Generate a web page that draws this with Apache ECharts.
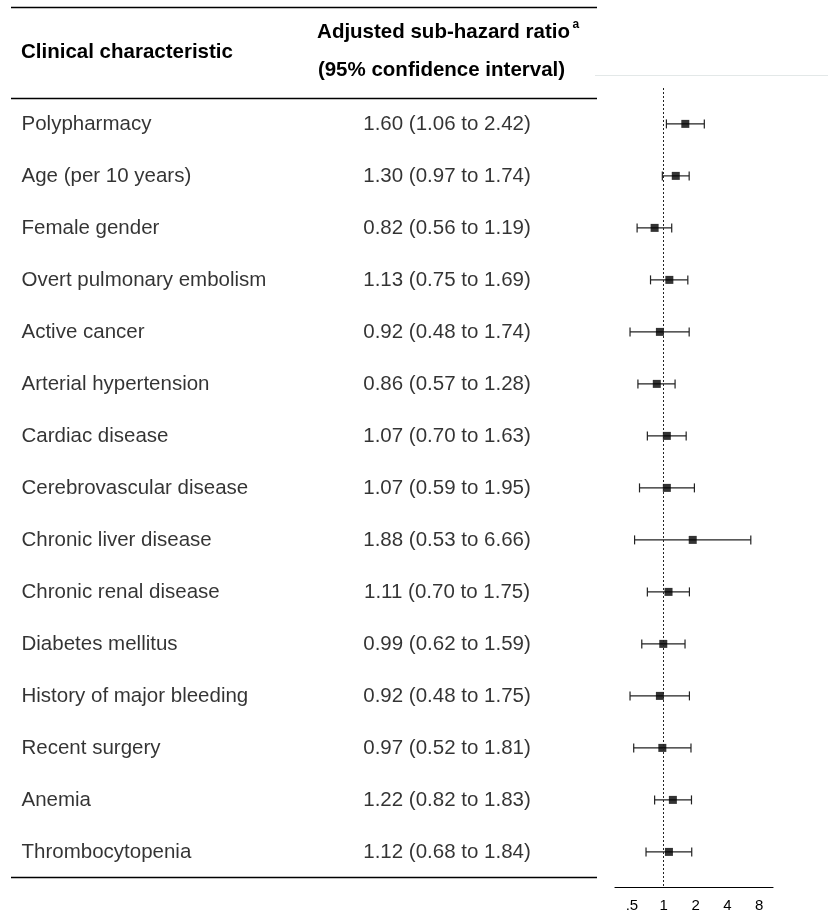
<!DOCTYPE html>
<html>
<head>
<meta charset="utf-8">
<script src="https://cdn.jsdelivr.net/npm/echarts@6/dist/echarts.min.js"></script>
<style>
  html, body { margin: 0; padding: 0; background: #fff; }
  #chart { width: 828px; height: 923px; }
</style>
</head>
<body>
<div id="chart"></div>
<script>
const labels = [
  'Polypharmacy', 'Age (per 10 years)', 'Female gender', 'Overt pulmonary embolism',
  'Active cancer', 'Arterial hypertension', 'Cardiac disease', 'Cerebrovascular disease',
  'Chronic liver disease', 'Chronic renal disease', 'Diabetes mellitus',
  'History of major bleeding', 'Recent surgery', 'Anemia', 'Thrombocytopenia'
];
const hr = [1.60, 1.30, 0.82, 1.13, 0.92, 0.86, 1.07, 1.07, 1.88, 1.11, 0.99, 0.92, 0.97, 1.22, 1.12];
const lo = [1.06, 0.97, 0.56, 0.75, 0.48, 0.57, 0.70, 0.59, 0.53, 0.70, 0.62, 0.48, 0.52, 0.82, 0.68];
const hi = [2.42, 1.74, 1.19, 1.69, 1.74, 1.28, 1.63, 1.95, 6.66, 1.75, 1.59, 1.75, 1.81, 1.83, 1.84];
const tickValues = [0.5, 1, 2, 4, 8];
const tickLabels = ['.5', '1', '2', '4', '8'];
const headerCol1 = 'Clinical characteristic';
const headerCol2a = 'Adjusted sub-hazard ratio';
const headerCol2b = '(95% confidence interval)';
const headerSup = 'a';

const FONT = '"Liberation Sans", Arial, Helvetica, sans-serif';
const TXT = '#000';
const log2 = v => Math.log(v) / Math.LN2;
const fmt = v => v.toFixed(2);

const chart = echarts.init(document.getElementById('chart'), null, { renderer: 'canvas' });

const rowIdx = labels.map((_, i) => i);
const yMin = -0.69, yMax = 14.675;

const option = {
  backgroundColor: '#fff',
  animation: false,
  textStyle: { fontFamily: FONT },
  grid: [
    { left: 615, width: 158, top: 88, height: 799, containLabel: false },
    { left: 0, width: 600, top: 88, height: 799, containLabel: false }
  ],
  xAxis: [
    {
      gridIndex: 0, type: 'value',
      min: log2(0.346), max: log2(10.8),
      splitLine: { show: false },
      axisLine: { show: true, onZero: false, lineStyle: { color: '#000', width: 1.2 } },
      axisTick: { show: false },
      axisLabel: {
        show: true, customValues: tickValues.map(log2),
        formatter: v => tickLabels[tickValues.findIndex(t => Math.abs(log2(t) - v) < 1e-6)] || '',
        color: TXT, fontSize: 15, fontFamily: FONT, margin: 11
      }
    },
    {
      gridIndex: 1, type: 'value', min: 0, max: 600, show: false
    }
  ],
  yAxis: [
    { gridIndex: 0, type: 'value', inverse: true, min: yMin, max: yMax, show: false },
    { gridIndex: 1, type: 'value', inverse: true, min: yMin, max: yMax, show: false }
  ],
  series: [
    {
      type: 'custom',
      xAxisIndex: 0, yAxisIndex: 0,
      data: rowIdx.map(i => [log2(lo[i]), log2(hi[i]), i]),
      renderItem: (params, api) => {
        const a = api.coord([api.value(0), api.value(2)]);
        const b = api.coord([api.value(1), api.value(2)]);
        const h = 4.5;
        const st = { stroke: '#222', lineWidth: 1.2 };
        return {
          type: 'group',
          children: [
            { type: 'line', shape: { x1: a[0], y1: a[1], x2: b[0], y2: b[1] }, style: st },
            { type: 'line', shape: { x1: a[0], y1: a[1] - h, x2: a[0], y2: a[1] + h }, style: st },
            { type: 'line', shape: { x1: b[0], y1: b[1] - h, x2: b[0], y2: b[1] + h }, style: st }
          ]
        };
      },
      markLine: {
        silent: true, symbol: 'none',
        label: { show: false },
        lineStyle: { type: [2, 2], color: '#222', width: 1 },
        data: [{ xAxis: 0 }]
      },
      z: 2
    },
    {
      type: 'scatter',
      xAxisIndex: 0, yAxisIndex: 0,
      symbol: 'rect', symbolSize: 8,
      itemStyle: { color: '#000' },
      data: rowIdx.map(i => [log2(hr[i]), i]),
      z: 3
    },
    {
      type: 'scatter',
      xAxisIndex: 1, yAxisIndex: 1,
      symbolSize: 1,
      itemStyle: { color: 'transparent' },
      data: rowIdx.map(i => ({ value: [21, i], name: labels[i] })),
      label: {
        show: true, position: 'right', distance: 0,
        formatter: p => p.name,
        color: TXT, fontSize: 20.5, fontFamily: FONT
      }
    },
    {
      type: 'scatter',
      xAxisIndex: 1, yAxisIndex: 1,
      symbolSize: 1,
      itemStyle: { color: 'transparent' },
      data: rowIdx.map(i => ({ value: [447, i], name: `${fmt(hr[i])} (${fmt(lo[i])} to ${fmt(hi[i])})` })),
      label: {
        show: true, position: 'inside',
        formatter: p => p.name,
        color: TXT, fontSize: 20.5, fontFamily: FONT
      }
    }
  ],
  graphic: [
    { type: 'line', shape: { x1: 11, y1: 7.5, x2: 597, y2: 7.5 }, style: { stroke: '#000', lineWidth: 1.3 } },
    { type: 'line', shape: { x1: 11, y1: 98.5, x2: 597, y2: 98.5 }, style: { stroke: '#000', lineWidth: 1.3 } },
    { type: 'line', shape: { x1: 11, y1: 877.5, x2: 597, y2: 877.5 }, style: { stroke: '#000', lineWidth: 1.3 } },
    { type: 'line', shape: { x1: 595, y1: 75.5, x2: 828, y2: 75.5 }, style: { stroke: '#e3e8e8', lineWidth: 1 } },
    { type: 'text', style: { x: 21, y: 52, text: headerCol1, textAlign: 'left', textVerticalAlign: 'middle', font: `bold 20.5px ${FONT}`, fill: TXT } },
    { type: 'text', style: { x: 443.5, y: 32, text: headerCol2a, textAlign: 'center', textVerticalAlign: 'middle', font: `bold 20.5px ${FONT}`, fill: TXT } },
    { type: 'text', style: { x: 572.5, y: 25, text: headerSup, textAlign: 'left', textVerticalAlign: 'middle', font: `bold 12px ${FONT}`, fill: TXT } },
    { type: 'text', style: { x: 441.5, y: 70, text: headerCol2b, textAlign: 'center', textVerticalAlign: 'middle', font: `bold 20.5px ${FONT}`, fill: TXT } }
  ]
};

chart.setOption(option);
</script>
</body>
</html>
